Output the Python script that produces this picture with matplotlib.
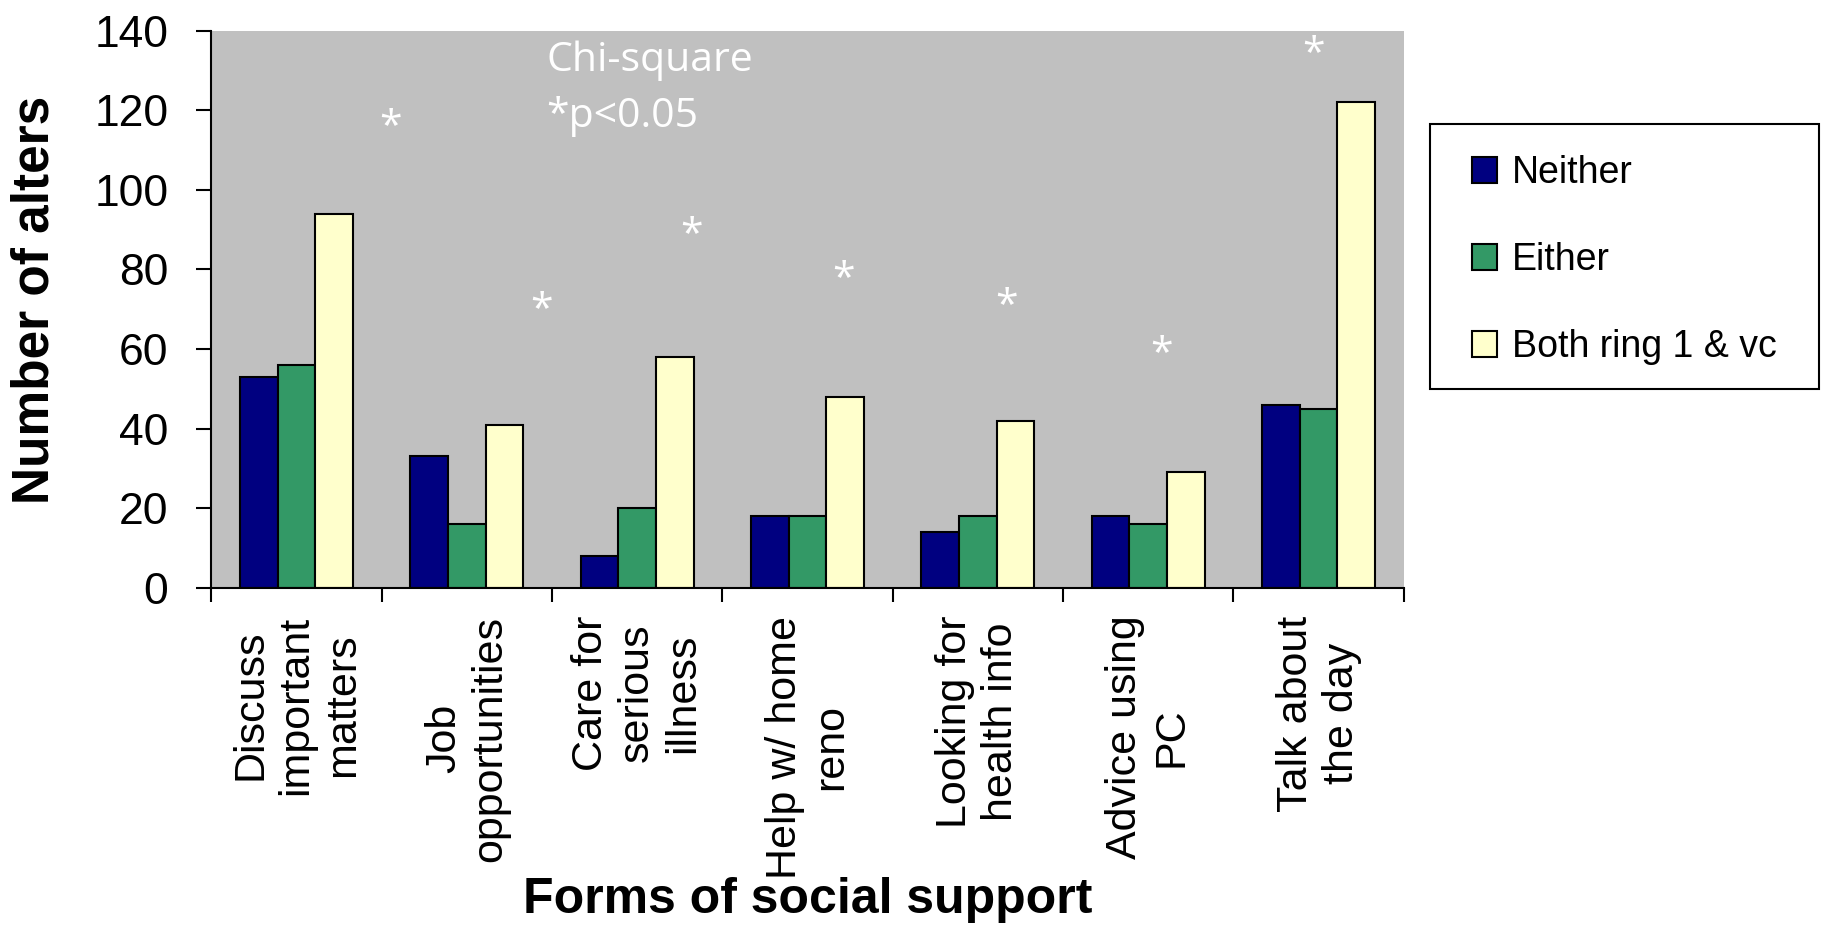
import matplotlib
matplotlib.use("Agg")
import matplotlib.pyplot as plt
from matplotlib.patches import Rectangle
import numpy as np

# dados: formas de apoio social x grupos
categorias = ["Discuss\nimportant\nmatters", "Job\nopportunities", "Care for\nserious\nillness",
              "Help w/ home\nreno", "Looking for\nhealth info", "Advice using\nPC", "Talk about\nthe day"]
neither = [53, 33, 8, 18, 14, 18, 46]
either = [56, 16, 20, 18, 18, 16, 45]
both = [94, 41, 58, 48, 42, 29, 122]
series = ["Neither", "Either", "Both ring 1 & vc"]
cores = ["#000080", "#339966", "#FFFFCC"]

# posicao dos asteriscos de significancia
sig_x = [0.55, 1.44, 2.32, 3.21, 4.17, 5.08, 5.97]
sig_y = [115.5, 69.5, 88.5, 77.5, 70.5, 58.5, 134]

plt.rcParams["font.family"] = ["Liberation Sans", "DejaVu Sans"]

fig = plt.figure(figsize=(18.22, 9.3), dpi=100)
ax = fig.add_axes([0.116, 0.368, 0.6545, 0.599])
ax.set_facecolor("#C0C0C0")

x = np.arange(len(categorias))
larg = 0.221
for k, valores in enumerate([neither, either, both]):
  ax.bar(x + (k - 1) * larg, valores, larg, color=cores[k], edgecolor="black",
         linewidth=1.5, label=series[k])

for i in range(len(sig_x)):
  ax.text(sig_x[i], sig_y[i], "*", color="white", fontsize=29.5, family="Open Sans",
          ha="center", va="center")

ax.text(1.466, 129.8, "Chi-square", color="white", fontsize=29.5, family="Open Sans", va="baseline")
ax.text(1.466, 115.9, "*p<0.05", color="white", fontsize=29.5, family="Open Sans", va="baseline")

ax.set_xlim(-0.5, 6.5)
ax.set_ylim(0, 140)
ax.set_yticks(range(0, 141, 20))
ax.set_xticks(x)
ax.set_xticklabels(categorias, rotation=90, fontsize=31, ha="center", va="top",
                   multialignment="center", linespacing=1.2)
ax.set_xticks(np.arange(-0.5, 7, 1), minor=True)
ax.tick_params(axis="x", which="major", length=0, pad=20)
ax.tick_params(axis="x", which="minor", length=10, width=1.5, direction="out")
ax.tick_params(axis="y", length=11, width=1.5, direction="out", labelsize=32, pad=20)

for lado in ["top", "right"]:
  ax.spines[lado].set_visible(False)
for lado in ["left", "bottom"]:
  ax.spines[lado].set_linewidth(1.5)

ax.set_ylabel("Number of alters", fontsize=37, fontweight="bold")
ax.yaxis.set_label_coords(-0.148, 0.517)
ax.yaxis.label.set_va("center")
ax.set_xlabel("Forms of social support", fontsize=36, fontweight="bold")
ax.xaxis.set_label_coords(0.5, -0.561)
ax.xaxis.label.set_va("center")

# caixa da legenda desenhada a parte
caixa = Rectangle((0.7846, 0.5813), 0.2138, 0.2849, transform=fig.transFigure,
                  facecolor="white", edgecolor="black", linewidth=1.5, zorder=0)
fig.patches.append(caixa)
leg = fig.legend(loc="upper left", bbox_to_anchor=(0.808, 0.833), fontsize=27, frameon=False,
                 handlelength=0.67, handleheight=0.67, handletextpad=0.4, labelspacing=1.36,
                 borderpad=0, borderaxespad=0)

plt.savefig("out.png", dpi=100)
